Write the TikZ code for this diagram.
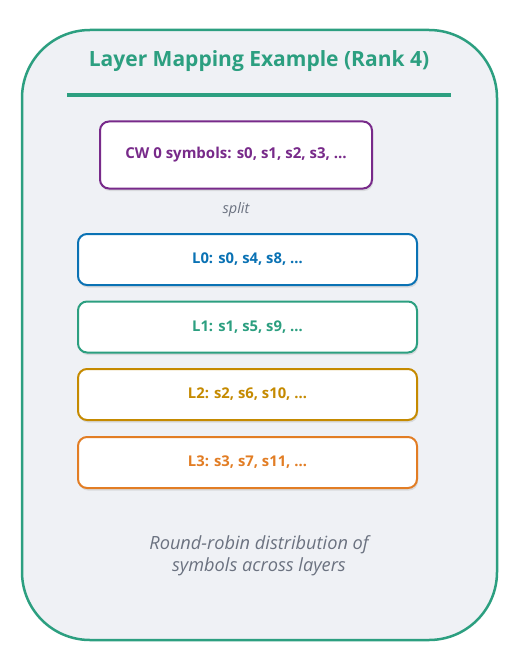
\documentclass[tikz,border=0pt]{standalone}
\usepackage{fontspec}
\setmainfont{Open Sans}
\usetikzlibrary{shadows}
\definecolor{tealc}{HTML}{2C9F80}
\definecolor{bluec}{HTML}{0A72B4}
\definecolor{goldc}{HTML}{C58A00}
\definecolor{orangec}{HTML}{E27D24}
\definecolor{purplec}{HTML}{782A8A}
\definecolor{panel}{HTML}{EFF1F5}
\definecolor{note}{HTML}{6B7280}
\begin{document}
\begin{tikzpicture}[x=1pt, y=-1pt,
  layer/.style={draw=#1, text=#1, fill=white, line width=2pt, rounded corners=9pt,
    minimum width=339pt, minimum height=51pt, font=\fontsize{14.8}{17}\selectfont\bfseries,
    drop shadow={shadow xshift=1pt, shadow yshift=-2.5pt, opacity=0.2}},
  caption/.style={text=note, font=\itshape, align=center}]
\useasboundingbox (0,0) rectangle (522,655);
\draw [tealc, line width=2.5pt, fill=panel, rounded corners=68pt] (22,30) rectangle (497,640);
\node [text=tealc, font=\fontsize{21}{24}\selectfont\bfseries] (title) at (259,61) {Layer Mapping Example (Rank 4)};
\draw [tealc, line width=4pt] (67,95) -- (451,95);

\node [layer=purplec, minimum width=272pt, minimum height=67pt, font=\fontsize{15}{17}\selectfont\bfseries] (cw) at (236,155) {CW 0 symbols: s0, s1, s2, s3, \dots};
\node [caption, font=\fontsize{14.5}{17}\selectfont\itshape] (split) at (236,210) {split};

\node [layer=bluec] (l0) at (247.5,259.5) {L0: s0, s4, s8, \dots};
\node [layer=tealc] (l1) at (247.5,327) {L1: s1, s5, s9, \dots};
\node [layer=goldc] (l2) at (247.5,394.5) {L2: s2, s6, s10, \dots};
\node [layer=orangec] (l3) at (247.5,462.5) {L3: s3, s7, s11, \dots};

\node [caption, font=\fontsize{18.2}{22}\selectfont\itshape] (foot) at (259,556) {Round-robin distribution of\\symbols across layers};
\end{tikzpicture}
\end{document}
